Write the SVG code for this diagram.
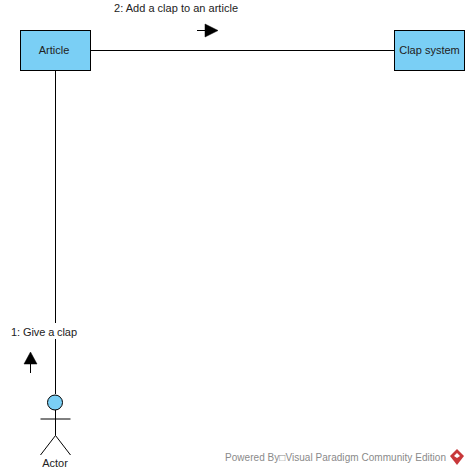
<svg xmlns="http://www.w3.org/2000/svg" width="469" height="474" viewBox="0 0 469 474">
<style>
text{font-family:"Liberation Sans",Arial,sans-serif;font-size:11px;fill:#222}
.box{fill:#7acff5;stroke:#000;stroke-width:1}
.ln{fill:none;stroke:#000;stroke-width:1}
.m{text-anchor:middle}
</style>
<rect width="469" height="474" fill="#fff"/>
<g id="connectors">
<path class="ln" d="M91 50.500H394"/>
<path class="ln" d="M55.500 71V394"/>
<rect x="11" y="323" width="66" height="16" fill="#fff"/>
<text x="11" y="336" textLength="66">1: Give a clap</text>
<path class="ln" d="M30.500 373V364"/>
<path d="M24 364L30.500 352L37 364Z" fill="#000" stroke="#000" stroke-width=".5"/>
<text x="114" y="12" textLength="124">2: Add a clap to an article</text>
<path class="ln" d="M197 30.500H205"/>
<path d="M205 24L218 30.500L205 37Z" fill="#000" stroke="#000" stroke-width=".5"/>
</g>
<g id="article">
<rect class="box" x="20.500" y="30.500" width="70" height="40"/>
<text class="m" x="54" y="54">Article</text>
</g>
<g id="clap-system">
<rect class="box" x="394.500" y="30.500" width="70" height="40"/>
<text class="m" x="429.500" y="54">Clap system</text>
</g>
<g id="actor">
<circle class="box" cx="55" cy="402.500" r="7.500"/>
<path class="ln" d="M55.500 410V435.500M40.500 419H70.500M40.500 455L55.500 435.500L70.500 455"/>
<text class="m" x="55" y="467">Actor</text>
</g>
<g id="watermark">
<text x="225" y="461" textLength="221" style="fill:#8a8a8a;font-size:10px">Powered By□Visual Paradigm Community Edition</text>
<path d="M457 449L464 456L457 465L450 456Z" fill="#c8383a"/>
<path d="M457 453L460 456L457 458L454 456Z" fill="#fff"/>
</g>
</svg>
